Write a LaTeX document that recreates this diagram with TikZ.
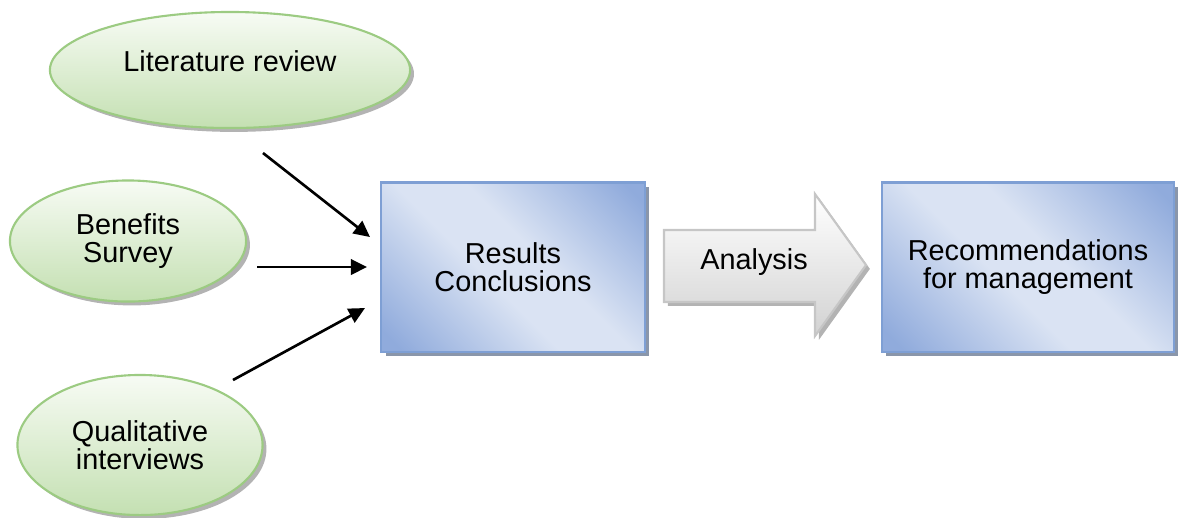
\documentclass[tikz,border=0pt]{standalone}
\usepackage{fontspec}
\setmainfont{Liberation Sans}
\usetikzlibrary{shapes.geometric,shadows,arrows.meta}

\definecolor{srcline}{HTML}{9CCB82}
\definecolor{srctop}{HTML}{F7FBF4}
\definecolor{srcbottom}{HTML}{C4E0B2}
\definecolor{bluedark}{HTML}{90ABDC}
\definecolor{bluelight}{HTML}{DAE3F3}
\definecolor{boxline}{HTML}{7E9FD4}
\definecolor{boxshadow}{HTML}{8A96AA}
\definecolor{srcshadow}{HTML}{A0A0A0}
\definecolor{arrline}{HTML}{C6C6C6}
\definecolor{arrbottom}{HTML}{D2D2D2}

\pgfdeclarehorizontalshading{boxblue}{100bp}{color(0bp)=(bluedark); color(18bp)=(bluedark); color(44bp)=(bluelight); color(56bp)=(bluelight); color(82bp)=(bluedark); color(100bp)=(bluedark)}

\newcommand{\labelfont}{\fontsize{8.2pt}{8pt}\selectfont}

\tikzset{
  source/.style={ellipse, draw=srcline, line width=0.6pt,
    top color=srctop, bottom color=srcbottom,
    drop shadow={shadow xshift=1.1pt, shadow yshift=-1.1pt, fill=srcshadow, opacity=0.8},
    align=center, font=\labelfont, inner sep=0pt},
  stage/.style={rectangle, draw=boxline, line width=0.6pt,
    shading=boxblue, shading angle=45,
    drop shadow={shadow xshift=1.2pt, shadow yshift=-1.2pt, fill=boxshadow, opacity=1},
    minimum width=2.63cm, minimum height=1.69cm, align=center, font=\labelfont},
  feed/.style={-{Triangle[length=4.6pt,width=4.4pt]}, line width=0.75pt}
}

\begin{document}
\begin{tikzpicture}[x=0.01cm,y=-0.01cm]
  \useasboundingbox (0,0) rectangle (1182,517);

  % inputs
  \node[source, minimum width=3.6cm, minimum height=1.16cm] (lit) at (230,70) {\raisebox{5pt}{Literature review}};
  \node[source, minimum width=2.36cm, minimum height=1.21cm] (survey) at (128,241) {Benefits\\Survey};
  \node[source, minimum width=2.45cm, minimum height=1.4cm] (interviews) at (140,445) {Qualitative\\interviews};

  % outputs
  \node[stage] (results) at (513,267) {Results\\Conclusions};
  \node[stage, minimum width=2.92cm] (recs) at (1028,267) {Recommendations\\for management};

  % big arrow
  \draw[draw=arrline, line width=0.6pt, top color=white, bottom color=arrbottom,
        drop shadow={shadow xshift=1.1pt, shadow yshift=-1.1pt, fill=srcshadow, opacity=0.8}]
    (664,230) -- (815,230) -- (815,194) -- (866,265) -- (815,336) -- (815,302) -- (664,302) -- cycle;
  \node[font=\labelfont] (analysis) at (754,262) {Analysis};

  % connectors
  \coordinate (litout) at (263,153);
  \coordinate (surveyout) at (257,267);
  \coordinate (intout) at (233,380);
  \coordinate (in1) at (370,237);
  \coordinate (in2) at (367,267);
  \coordinate (in3) at (365,308);

  \draw[feed] (litout) -- (in1);
  \draw[feed] (surveyout) -- (in2);
  \draw[feed] (intout) -- (in3);
\end{tikzpicture}
\end{document}
